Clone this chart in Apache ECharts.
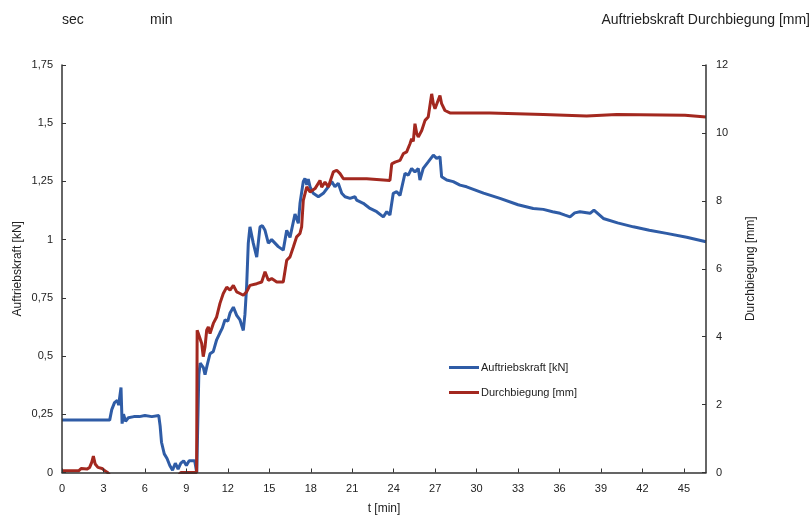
<!DOCTYPE html>
<html>
<head>
<meta charset="utf-8">
<script src="https://cdn.jsdelivr.net/npm/echarts@6/dist/echarts.min.js"></script>
<style>html,body{margin:0;padding:0;background:#fff}#c{width:812px;height:517px}</style>
</head>
<body>
<div id="c"></div>
<script>
// Time axis [min]
const xTicks = [0,3,6,9,12,15,18,21,24,27,30,33,36,39,42,45];
const leftTicks = [0,0.25,0.5,0.75,1,1.25,1.5,1.75];
const rightTicks = [0,2,4,6,8,10,12];

// Auftriebskraft [kN]
const forceT = [0,3.45,3.6,3.8,4.0,4.1,4.27,4.35,4.45,4.6,4.8,5.2,5.6,6.0,6.5,7.0,7.1,7.2,7.4,7.6,7.8,8.0,8.2,8.4,8.6,8.8,9.0,9.2,9.6,9.75,9.9,10.0,10.23,10.35,10.5,10.71,10.95,11.19,11.43,11.6,11.79,12.0,12.16,12.4,12.64,12.88,13.12,13.24,13.36,13.48,13.6,13.84,14.09,14.33,14.5,14.69,14.93,15.17,15.41,15.65,16.01,16.26,16.5,16.86,17.1,17.22,17.46,17.58,17.71,17.82,17.95,18.18,18.55,18.91,19.27,19.52,19.75,19.99,20.24,20.48,20.84,21.2,21.32,21.8,22.29,22.77,23.25,23.5,23.73,23.97,24.22,24.46,24.82,25.06,25.3,25.54,25.78,25.9,26.14,26.5,26.87,27.11,27.35,27.47,27.84,28.31,28.8,29.28,30.5,31.69,33.0,34.1,34.83,35.5,36.04,36.4,36.76,37.1,37.48,38.21,38.49,39.17,40.2,41.34,42.5,43.75,45.2,46.6];
const forceV = [0.225,0.225,0.27,0.30,0.31,0.29,0.365,0.21,0.25,0.22,0.235,0.24,0.24,0.245,0.24,0.245,0.2,0.13,0.08,0.06,0.03,0.01,0.04,0.015,0.04,0.05,0.03,0.05,0.05,0.0,0.42,0.47,0.45,0.42,0.46,0.51,0.52,0.57,0.60,0.62,0.655,0.65,0.685,0.71,0.675,0.655,0.61,0.68,0.80,0.985,1.055,0.985,0.925,1.055,1.06,1.04,0.985,1.0,0.985,0.97,0.955,1.04,1.01,1.11,1.07,1.155,1.25,1.263,1.235,1.26,1.227,1.199,1.184,1.199,1.227,1.249,1.227,1.242,1.199,1.184,1.177,1.184,1.17,1.156,1.134,1.12,1.098,1.12,1.106,1.199,1.206,1.19,1.285,1.277,1.306,1.29,1.306,1.256,1.306,1.334,1.363,1.349,1.356,1.27,1.256,1.249,1.234,1.227,1.2,1.177,1.15,1.134,1.13,1.12,1.113,1.105,1.098,1.115,1.12,1.113,1.127,1.091,1.072,1.055,1.04,1.027,1.01,0.991];

// Durchbiegung [mm]
const deflT = [0,1.2,1.4,1.8,2.0,2.15,2.27,2.4,2.6,2.9,3.1,3.3,3.5,8.4,8.6,9.74,9.78,9.86,9.99,10.11,10.22,10.35,10.47,10.59,10.71,10.83,10.95,11.19,11.43,11.67,11.92,12.16,12.4,12.64,12.88,13.12,13.36,13.6,14.09,14.45,14.69,14.93,15.17,15.54,16.01,16.26,16.5,16.74,16.98,17.22,17.34,17.46,17.71,17.95,18.31,18.67,18.79,19.03,19.27,19.63,19.88,20.12,20.36,22.05,22.16,23.73,23.86,24.1,24.46,24.7,24.94,25.18,25.3,25.42,25.54,25.67,25.78,26.03,26.27,26.5,26.75,26.87,26.99,27.11,27.35,27.47,27.71,28.07,30.97,31.05,34.83,34.9,37.96,38.0,40.14,40.2,45.08,45.15,46.6];
const deflV = [0.05,0.05,0.12,0.1,0.15,0.3,0.48,0.25,0.15,0.12,0.05,0.0,-0.1,-0.1,0.0,0.0,4.19,4.1,4.09,3.8,3.41,3.7,4.19,4.29,4.09,4.05,4.39,4.58,4.98,5.27,5.46,5.37,5.51,5.32,5.27,5.22,5.32,5.51,5.56,5.61,5.91,5.66,5.71,5.61,5.61,6.25,6.35,6.64,6.94,7.04,7.23,8.01,8.41,8.26,8.36,8.60,8.4,8.55,8.41,8.85,8.90,8.80,8.65,8.65,8.60,8.60,9.09,9.14,9.19,9.39,9.44,9.68,9.83,9.75,10.27,9.98,9.88,10.07,10.37,10.47,11.15,10.86,10.71,10.76,11.10,10.86,10.66,10.59,10.59,10.54,10.54,10.50,10.50,10.54,10.54,10.52,10.52,10.47,10.47];

const seriesNames = ['Auftriebskraft [kN]', 'Durchbiegung [mm]'];
const headerTexts = ['sec', 'min', 'Auftriebskraft Durchbiegung [mm]'];

const zip = (a, b) => a.map((t, i) => [t, b[i]]);
const comma = v => String(v).replace('.', ',');
const FONT = 'Liberation Sans, Arial, sans-serif';
const AX = '#333';
const headStyle = {fontSize: 14, fontWeight: 'normal', color: '#222', fontFamily: FONT};

const chart = echarts.init(document.getElementById('c'), null, {renderer: 'canvas'});
chart.setOption({
  animation: false,
  backgroundColor: '#fff',
  textStyle: {fontFamily: FONT},
  title: [
    {text: headerTexts[0], left: 57, top: 8, textStyle: headStyle},
    {text: headerTexts[1], left: 145, top: 8, textStyle: headStyle},
    {text: headerTexts[2], right: -3, top: 8, textStyle: headStyle}
  ],
  grid: {left: 62, right: 106, top: 65, bottom: 44.5, containLabel: false, outerBoundsMode: 'none'},
  legend: {
    orient: 'vertical', left: 444, top: 357, itemWidth: 30, itemHeight: 3, itemGap: 14,
    icon: 'rect',
    textStyle: {fontSize: 11, color: '#222', fontFamily: FONT, padding: [0, 0, 0, -3]},
    data: seriesNames
  },
  xAxis: {
    type: 'value', min: 0, max: 46.6, interval: 3, z: 5,
    name: 't [min]', nameLocation: 'middle', nameGap: 30,
    nameTextStyle: {fontSize: 12, color: '#222'},
    axisLine: {onZero: false, lineStyle: {color: AX, width: 1.5}},
    axisTick: {inside: true, length: 4, lineStyle: {color: AX}},
    axisLabel: {showMaxLabel: false, fontSize: 11, color: '#222', margin: 11,
      formatter: v => xTicks.includes(v) ? String(v) : ''},
    splitLine: {show: false}
  },
  yAxis: [
    {
      type: 'value', min: leftTicks[0], max: leftTicks[leftTicks.length - 1], interval: 0.25, position: 'left', z: 5,
      name: seriesNames[0], nameLocation: 'middle', nameGap: 38, nameMoveOverlap: false,
      nameTextStyle: {fontSize: 12, color: '#222'},
      axisLine: {show: true, onZero: false, lineStyle: {color: AX, width: 1.5}},
      axisTick: {show: true, inside: true, length: 4, lineStyle: {color: AX}},
      axisLabel: {fontSize: 11, color: '#222', margin: 9, formatter: v => comma(v)},
      splitLine: {show: false}
    },
    {
      type: 'value', min: rightTicks[0], max: rightTicks[rightTicks.length - 1], interval: 2, position: 'right', z: 5,
      name: seriesNames[1], nameLocation: 'middle', nameGap: 39,
      nameTextStyle: {fontSize: 12, color: '#222'},
      axisLine: {show: true, onZero: false, lineStyle: {color: AX, width: 1.5}},
      axisTick: {show: true, inside: true, length: 4, lineStyle: {color: AX}},
      axisLabel: {fontSize: 11, color: '#222', margin: 10},
      splitLine: {show: false}
    }
  ],
  series: [
    {name: seriesNames[0], type: 'line', yAxisIndex: 0, data: zip(forceT, forceV), symbol: 'none',
      color: '#2f5ca6', lineStyle: {width: 3, color: '#2f5ca6'}},
    {name: seriesNames[1], type: 'line', yAxisIndex: 1, data: zip(deflT, deflV), symbol: 'none',
      color: '#a3281f', lineStyle: {width: 3, color: '#a3281f'}}
  ]
});
</script>
</body>
</html>
